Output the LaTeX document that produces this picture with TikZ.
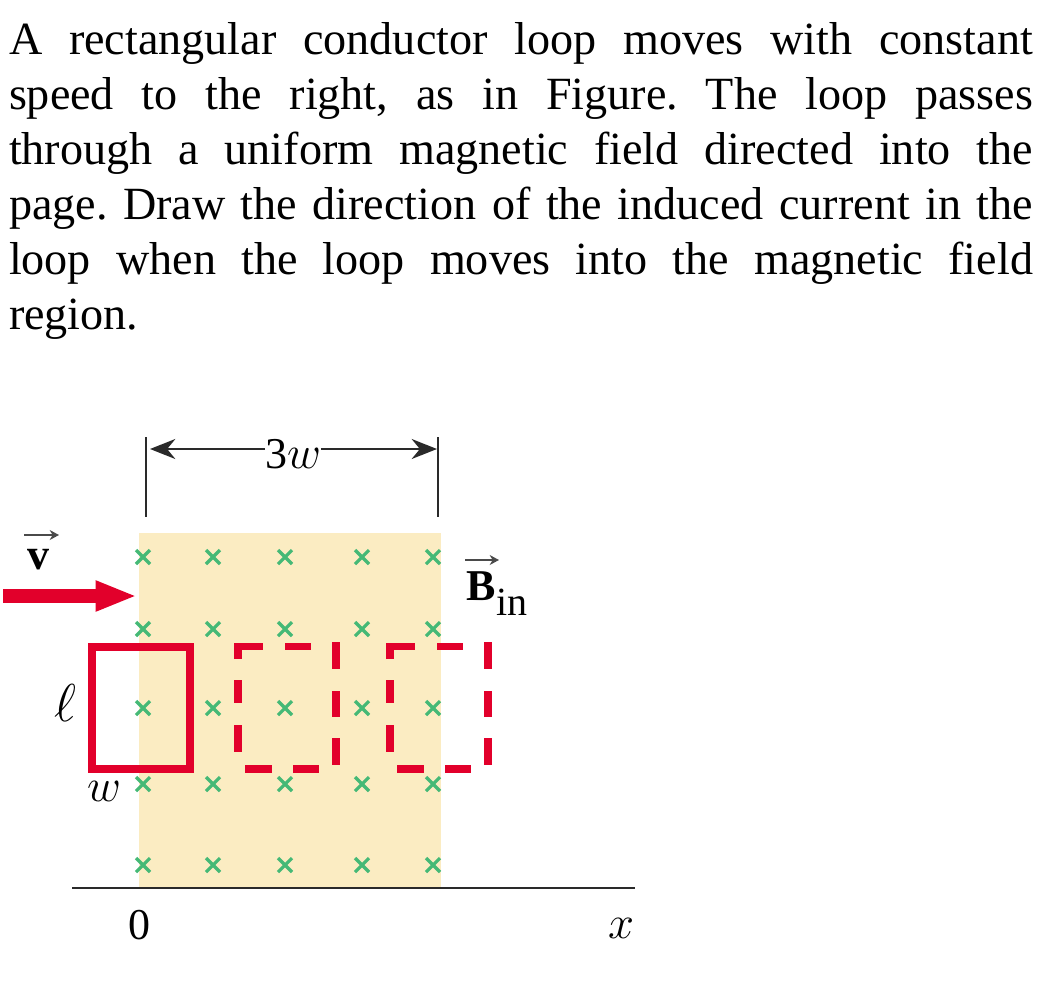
\RequirePackage{fix-cm}
\documentclass[tikz,border=0pt]{standalone}
\usepackage{fontspec}
\setmainfont{Liberation Serif}
\usetikzlibrary{arrows.meta}
\definecolor{fieldbg}{HTML}{FBECC2}
\definecolor{crossgreen}{HTML}{45B976}
\definecolor{loopred}{HTML}{E2002B}
\definecolor{inkdark}{HTML}{2A2A2A}
\tikzset{
  x=0.75pt,y=-0.75pt,
  crossmark/.style={draw=crossgreen,line width=2.4pt},
  loopline/.style={draw=loopred,line width=5.6pt},
  dimline/.style={draw=inkdark,line width=1.6pt},
  dimarrow/.style={draw=inkdark,line width=1.6pt,-{Stealth[length=19pt,width=15pt]}},
  vecarrow/.style={draw=inkdark!85,line width=1.4pt,-{Stealth[length=7pt,width=7.5pt]}},
  axisline/.style={draw=inkdark,line width=2pt},
  speedarrow/.style={draw=loopred,line width=10pt,-{Triangle[length=31pt,width=21pt]}},
  lab/.style={inner sep=0pt,outer sep=0pt,text=black,font=\fontsize{40}{40}\selectfont},
  wlab/.style={inner sep=0pt,outer sep=0pt,text=black,font=\fontsize{35}{35}\selectfont},
  numlab/.style={inner sep=0pt,outer sep=0pt,text=black,font=\fontsize{33}{33}\selectfont},
  labbf/.style={inner sep=0pt,outer sep=0pt,text=black,font=\fontsize{33}{33}\selectfont\bfseries},
}
\begin{document}
\begin{tikzpicture}
\useasboundingbox (0,0) rectangle (1053,1000);
% question text
\node[anchor=north west,inner sep=0pt,outer sep=0pt,text width=768pt,align=justify,
  font=\fontsize{34.6}{41.25}\selectfont\frenchspacing] (question) at (9,22)
 {A rectangular conductor loop moves with constant\linebreak
  speed to the right, as in Figure. The loop passes\linebreak
  through a uniform magnetic field directed into the\linebreak
  page. Draw the direction of the induced current in the\linebreak
  loop when the loop moves into the magnetic field\linebreak
  region.};
% field region
\fill[fieldbg] (139,533) rectangle (441,888);
% crosses
\foreach \cx in {143,213,285,362,433}
  \foreach \cy in {557,629,708,784,865}
    \draw[crossmark] (\cx-7,\cy-7) -- (\cx+7,\cy+7) (\cx-7,\cy+7) -- (\cx+7,\cy-7);
% axis
\coordinate (axisL) at (72,888);
\coordinate (axisR) at (635,888);
\draw[axisline] (axisL) -- (axisR);
% dimension
\coordinate (tickLt) at (146,437);
\coordinate (tickLb) at (146,517);
\coordinate (tickRt) at (438,437);
\coordinate (tickRb) at (438,517);
\draw[dimline] (tickLt) -- (tickLb);
\draw[dimline] (tickRt) -- (tickRb);
\node[numlab] (threew) at (293,454) {3{\fontsize{35}{35}\selectfont$w$}};
\coordinate (dimL) at (150,449);
\coordinate (dimR) at (437,449);
\draw[dimarrow] (threew.west |- dimL) -- (dimL);
\draw[dimarrow] (threew.east |- dimR) -- (dimR);
% velocity
\coordinate (speedTail) at (3,596);
\coordinate (speedTip) at (137,596);
\draw[speedarrow] (speedTail) -- (speedTip);
\node[labbf] (vlabel) at (38,560) {v};
\coordinate (vA) at (24,535);
\coordinate (vB) at (59,535);
\draw[vecarrow] (vA) -- (vB);
% field label
\node[labbf,anchor=base west] (blabel) at (466,600) {B};
\node[numlab,anchor=base west,font=\fontsize{30}{30}\selectfont] (binlabel) at (496,615) {in};
\coordinate (bA) at (465,560);
\coordinate (bB) at (499,560);
\draw[vecarrow] (bA) -- (bB);
% solid loop
\draw[loopline,miter limit=10] (92,647) rectangle (190,769);
% dashed loops
\foreach \sx in {0,152}{
  \begin{scope}[xshift=\sx*0.75pt]
  \draw[loopline] (238,659) -- (238,646.5) -- (263,646.5);
  \draw[loopline] (285,646.5) -- (311,646.5);
  \draw[loopline] (336,642) -- (336,669);
  \draw[loopline] (336,691) -- (336,717);
  \draw[loopline] (336,738) -- (336,765);
  \draw[loopline] (238,680) -- (238,703);
  \draw[loopline] (238,725) -- (238,752);
  \draw[loopline] (245,769) -- (272,769);
  \draw[loopline] (293,769) -- (319,769);
  \end{scope}
}
% labels
\node[lab] (ell) at (65,703) {$\ell$};
\node[wlab] (wlabel) at (104,791) {$w$};
\node[numlab] (zero) at (139,925) {0};
\node[wlab] (xlabel) at (621,928) {$x$};
\end{tikzpicture}
\end{document}
